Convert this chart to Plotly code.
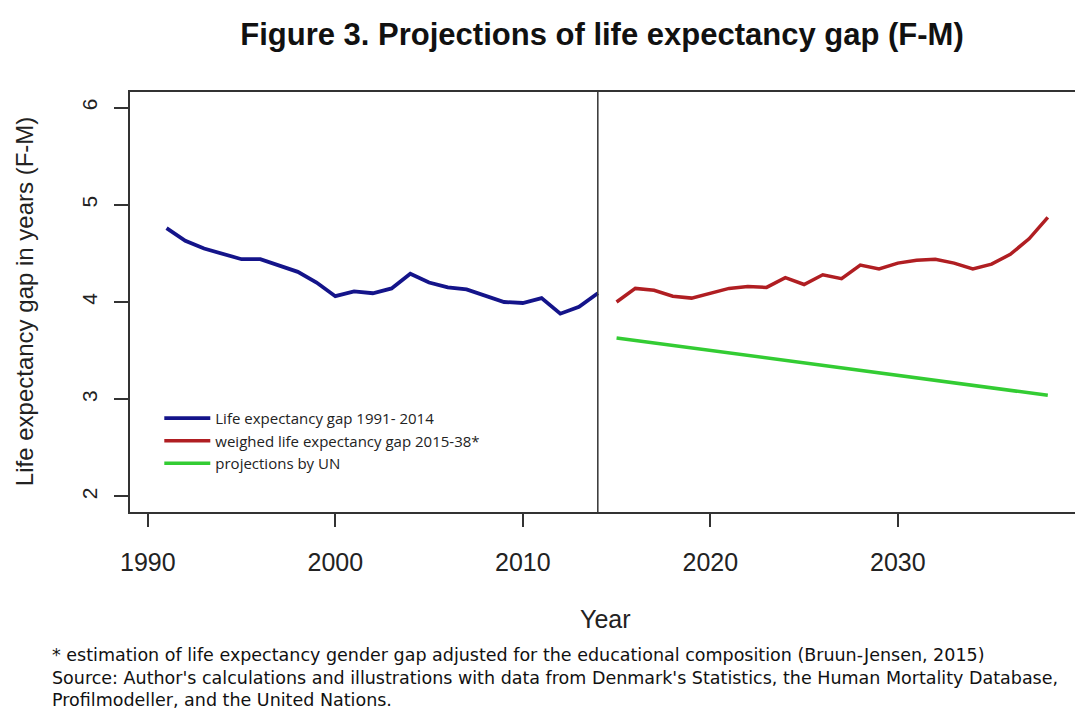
import plotly.graph_objects as go

# Observed female-minus-male life expectancy gap, 1991-2014
years_obs = list(range(1991, 2015))
gap_obs = [4.76, 4.63, 4.55, 4.50, 4.44, 4.44, 4.37, 4.31, 4.20, 4.06,
           4.11, 4.09, 4.14, 4.29, 4.20, 4.15, 4.13, 4.06, 4.00, 3.99,
           4.04, 3.88, 3.95, 4.09]

# Education-weighted projection, 2015-2038
years_proj = list(range(2015, 2039))
gap_weighted = [4.00, 4.14, 4.12, 4.06, 4.04, 4.09, 4.14, 4.16, 4.15, 4.25,
                4.18, 4.28, 4.24, 4.38, 4.34, 4.40, 4.43, 4.44, 4.40, 4.34,
                4.39, 4.49, 4.65, 4.87]

# UN projections
years_un = [2015, 2020, 2025, 2030, 2035, 2038]
gap_un = [3.63, 3.50, 3.37, 3.24, 3.11, 3.04]

y_ticks = [2, 3, 4, 5, 6]
x_ticks = [1990, 2000, 2010, 2020, 2030]
split_year = 2014

fig = go.Figure()
fig.add_trace(go.Scatter(x=years_obs, y=gap_obs, mode="lines",
                         name="Life expectancy gap 1991- 2014",
                         line=dict(color="#14148a", width=3.8)))
fig.add_trace(go.Scatter(x=years_proj, y=gap_weighted, mode="lines",
                         name="weighed life expectancy gap 2015-38*",
                         line=dict(color="#b01e22", width=3.5)))
fig.add_trace(go.Scatter(x=years_un, y=gap_un, mode="lines",
                         name="projections by UN",
                         line=dict(color="#33cc33", width=3.5)))

fig.add_shape(type="line", xref="x", yref="paper", x0=split_year, x1=split_year,
              y0=0, y1=1, line=dict(color="#333333", width=1.5))

sans = "Liberation Sans, Arial, sans-serif"
x_tick_font = dict(family=sans, size=25, color="#222222")
y_tick_font = dict(family=sans, size=21, color="#222222")

fig.update_layout(
    width=1075, height=711,
    margin=dict(l=130, r=0, t=92, b=199),
    paper_bgcolor="white", plot_bgcolor="white",
    showlegend=True,
    legend=dict(x=0.031, y=0.262, xanchor="left", yanchor="top",
                bgcolor="rgba(0,0,0,0)", borderwidth=0,
                font=dict(family="Open Sans, sans-serif", size=15, color="#222222"),
                tracegroupgap=0, itemwidth=46),
    title=dict(text="<b>Figure 3. Projections of life expectancy gap (F-M)</b>",
               x=0.56, xanchor="center", y=0.952, yanchor="middle",
               font=dict(family=sans, size=31, color="#111111")),
    xaxis=dict(range=[1989.05, 2039.45], tickvals=x_ticks, ticktext=[str(v) for v in x_ticks],
               showgrid=False, zeroline=False, showline=True, mirror=True,
               linecolor="#333333", linewidth=1.5, ticks="outside", ticklen=13,
               tickcolor="#333333", tickwidth=1.5, tickfont=x_tick_font,
               ticklabelstandoff=14),
    yaxis=dict(range=[1.84, 6.16], tickvals=y_ticks, ticktext=[str(v) for v in y_ticks],
               showgrid=False, zeroline=False, showline=True, mirror=False,
               linecolor="#333333", linewidth=1.5, ticks="outside", ticklen=14,
               tickcolor="#333333", tickwidth=1.5, tickfont=y_tick_font, tickangle=-90,
               ticklabelstandoff=9),
)

fig.add_annotation(text="Life expectancy gap in years (F-M)", xref="paper", yref="paper",
                   x=-0.112, y=0.5, xanchor="center", yanchor="middle", textangle=-90,
                   showarrow=False, font=dict(family=sans, size=24, color="#222222"))
fig.add_annotation(text="Year", xref="paper", yref="paper", x=0.503, y=-0.255,
                   xanchor="center", yanchor="middle", showarrow=False,
                   font=dict(family=sans, size=25, color="#222222"))

foot_font = dict(family="DejaVu Sans, sans-serif", size=17.5, color="#111111")
footnotes = [
    ("* estimation of life expectancy gender gap adjusted for the educational composition (Bruun-Jensen, 2015)", 655),
    ("Source: Author's calculations and illustrations with data from Denmark's Statistics, the Human Mortality Database,", 678),
    ("Profilmodeller, and the United Nations.", 700),
]
for text, ypx in footnotes:
    fig.add_annotation(text=text, xref="paper", yref="paper",
                       x=(50 - 130) / 945, y=(512 - ypx) / 420,
                       xanchor="left", yanchor="middle", showarrow=False, font=foot_font)

fig.write_html("out.html")
